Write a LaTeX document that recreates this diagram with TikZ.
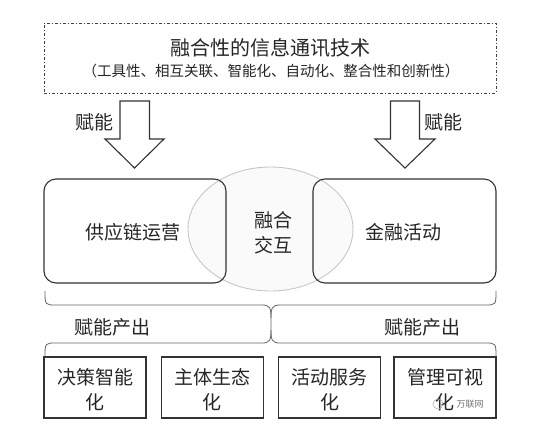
\documentclass[tikz,border=0pt]{standalone}
\usepackage{fontspec}
\setmainfont{Noto Sans CJK SC}
\usetikzlibrary{shapes.geometric}
\begin{document}
\begin{tikzpicture}[x=1pt,y=-1pt,
  box/.style={draw=black!80, line width=1.1pt, inner sep=0pt},
  txt/.style={font=\fontsize{19}{25}\selectfont, text=black!85, inner sep=0pt, align=center},
  brace/.style={draw=black!60, line width=0.8pt},
  blockarrow/.style={draw=black!80, line width=1.1pt, fill=white, line join=miter},
]
\useasboundingbox[fill=white] (0,0) rectangle (541,445);
% top technology box
\node[draw=black!75, line width=1pt, dash pattern=on 3pt off 2pt on 1pt off 2pt,
      minimum width=452pt, minimum height=70pt, inner sep=0pt] (tech) at (270,58) {};
\node[txt, font=\fontsize{20}{22}\selectfont] (title) at (270,48) {融合性的信息通讯技术};
\node[txt, font=\fontsize{14.5}{17}\selectfont] (sub) at (271,71) {（工具性、相互关联、智能化、自动化、整合性和创新性）};
% block arrows
\draw[blockarrow] (120,101) -- (149.5,101) -- (149.5,139) -- (164,139) -- (134.5,168) -- (105,139) -- (120,139) -- cycle;
\draw[blockarrow] (390.5,101) -- (419.5,101) -- (419.5,139) -- (435,139) -- (405,168) -- (375,139) -- (390.5,139) -- cycle;
\node[txt] (fnl) at (94,122) {赋能};
\node[txt] (fnr) at (443,122) {赋能};
% fusion ellipse
\node[draw=black!22, fill=black!2, line width=0.9pt, ellipse, minimum width=165pt, minimum height=124pt, inner sep=0pt] (fuse) at (270.5,229) {};
% rounded boxes
\node[box, rounded corners=12pt, minimum width=182pt, minimum height=104pt] (supply) at (135,231) {};
\node[box, rounded corners=12pt, minimum width=183pt, minimum height=104pt] (finance) at (404.5,231) {};
\node[txt] (supplyt) at (133,232) {供应链运营};
\node[txt] (financet) at (403.5,232) {金融活动};
\node[txt] (fuset) at (273,233) {融合\\交互};
% braces
\draw[brace] (45,291) .. controls (45,305) .. (56,305) -- (262,305) .. controls (270,305) and (271,308) .. (271,318) -- (271,324);
\draw[brace] (496,291) .. controls (496,305) .. (485,305) -- (280,305) .. controls (272,305) and (271,308) .. (271,318);
\draw[brace] (45,357) .. controls (45,343) .. (56,343) -- (262,343) .. controls (270,343) and (271,340) .. (271,330) -- (271,324);
\draw[brace] (496,357) .. controls (496,343) .. (485,343) -- (280,343) .. controls (272,343) and (271,340) .. (271,330);
\node[txt] (outl) at (112.5,327) {赋能产出};
\node[txt] (outr) at (422.5,327) {赋能产出};
% output boxes
\node[box, minimum width=102pt, minimum height=61pt] (o1) at (95,387.5) {};
\node[box, minimum width=102pt, minimum height=61pt] (o2) at (212.3,387.5) {};
\node[box, minimum width=102pt, minimum height=61pt] (o3) at (329.7,387.5) {};
\node[box, minimum width=102pt, minimum height=61pt] (o4) at (445,387.5) {};
\node[txt] (o1t) at (95,389.5) {决策智能\\化};
\node[txt] (o2t) at (212.3,389.5) {主体生态\\化};
\node[txt] (o3t) at (329.7,389.5) {活动服务\\化};
\node[txt] (o4t) at (445,389.5) {管理可视\\化};
% watermark
\draw[black!35, line width=0.5pt] (438,404) circle (5pt);
\node[text=black!55, font=\fontsize{9}{10}\selectfont, inner sep=0pt] (wm) at (470,404) {万联网};
\end{tikzpicture}
\end{document}
